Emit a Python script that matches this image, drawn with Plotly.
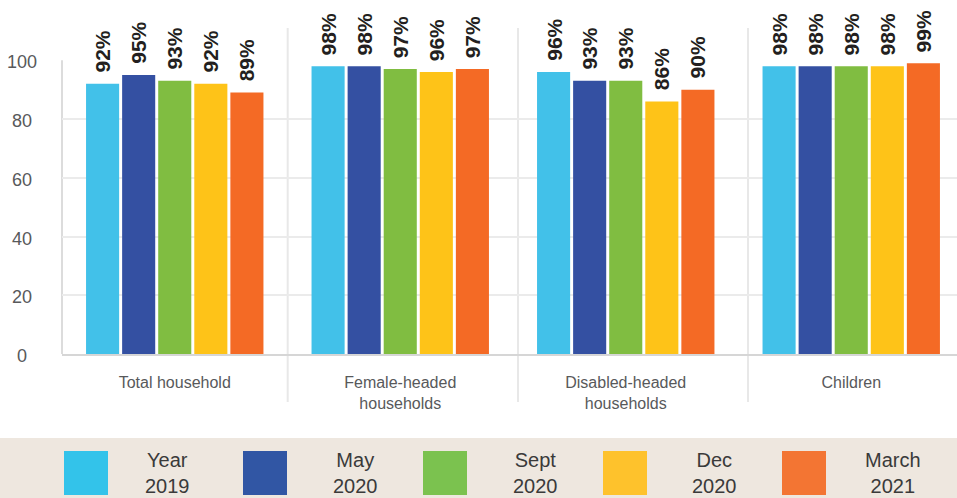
import plotly.graph_objects as go

# ---- data ----
categories = ["Total household", "Female-headed households", "Disabled-headed households", "Children"]
category_labels = ["Total household", "Female-headed<br>households", "Disabled-headed<br>households", "Children"]
series_names = ["Year 2019", "May 2020", "Sept 2020", "Dec 2020", "March 2021"]
legend_labels = ["Year<br>2019", "May<br>2020", "Sept<br>2020", "Dec<br>2020", "March<br>2021"]
year_2019 = [92, 98, 96, 98]
may_2020 = [95, 98, 93, 98]
sept_2020 = [93, 97, 93, 98]
dec_2020 = [92, 96, 86, 98]
march_2021 = [89, 97, 90, 99]
series_values = [year_2019, may_2020, sept_2020, dec_2020, march_2021]
y_tick_values = [0, 20, 40, 60, 80, 100]

# ---- style ----
bar_colors = ["#42C1E9", "#3450A2", "#80BD41", "#FEC318", "#F46A25"]
legend_colors = ["#33C3EA", "#3156A4", "#7BC24F", "#FEC22C", "#F37533"]
W, H = 957, 498
L, R, T, B = 62, 0, 28, 144
PW = W - L - R
PH = H - T - B
Y_MAX = 111

def px_x(px):
    return (px - L) / PW

def px_y(py):
    return (H - B - py) / PH

fig = go.Figure()
for name, vals, col in zip(series_names, series_values, bar_colors):
    fig.add_trace(go.Bar(
        name=name, x=categories, y=vals, marker=dict(color=col, line=dict(width=0)),
        showlegend=False, hoverinfo="x+y",
    ))

shapes = []
annotations = []

# legend band
shapes.append(dict(type="rect", xref="paper", yref="paper", x0=px_x(0), x1=px_x(W),
                   y0=px_y(438), y1=px_y(H), fillcolor="#EEE7DF", line=dict(width=0), layer="below"))

# separators between groups
for sx in [287.7, 518, 748]:
    shapes.append(dict(type="line", xref="paper", yref="paper", x0=px_x(sx), x1=px_x(sx),
                       y0=px_y(402), y1=px_y(28), line=dict(color="#E8E8E8", width=2), layer="below"))

# y axis line
shapes.append(dict(type="line", xref="paper", yref="y", x0=0, x1=0, y0=0, y1=100,
                   line=dict(color="#DCDCDC", width=2), layer="below"))

# y tick labels (centered)
for v in y_tick_values:
    annotations.append(dict(xref="paper", yref="y", x=px_x(22), y=v, text=str(v), showarrow=False,
                            xanchor="center", yanchor="middle", yshift=-2,
                            font=dict(family="Liberation Sans, Arial, sans-serif", size=18, color="#58595B")))

# value labels above bars
slot = 36
for i, vals in enumerate(series_values):
    for cat, v in zip(categories, vals):
        annotations.append(dict(xref="x", yref="y", x=cat, y=v, text=f"{v}%", showarrow=False,
                                textangle=-90, xanchor="center", yanchor="bottom",
                                xshift=(i - 2) * slot, yshift=10, borderpad=0,
                                font=dict(family="Liberation Sans, Arial, sans-serif", size=21,
                                          color="#231F20", weight="bold")))

# custom legend
sq_x0 = [64, 243, 423, 603, 782]
txt_cx = [167, 355, 535, 714, 893]
for lab, col, x0, cx in zip(legend_labels, legend_colors, sq_x0, txt_cx):
    shapes.append(dict(type="rect", xref="paper", yref="paper", x0=px_x(x0), x1=px_x(x0 + 44),
                       y0=px_y(495), y1=px_y(451), fillcolor=col, line=dict(width=0)))
    annotations.append(dict(xref="paper", yref="paper", x=px_x(cx), y=px_y(473), text=lab,
                            showarrow=False, xanchor="center", yanchor="middle", align="center",
                            font=dict(family="Liberation Sans, Arial, sans-serif", size=20, color="#3A3A3A")))

fig.update_layout(
    width=W, height=H,
    margin=dict(l=L, r=R, t=T, b=B, pad=0),
    paper_bgcolor="white", plot_bgcolor="white",
    barmode="group", bargap=0.2, bargroupgap=0.083,
    shapes=shapes, annotations=annotations,
    showlegend=False,
    xaxis=dict(
        type="category", range=[-0.5, 3.469], tickmode="array", tickvals=categories, ticktext=category_labels,
        showline=True, linecolor="#D6D6D6", linewidth=2, showgrid=False,
        ticks="outside", ticklen=13, tickcolor="rgba(0,0,0,0)",
        tickfont=dict(family="Liberation Sans, Arial, sans-serif", size=16, color="#58595B"),
        fixedrange=True,
    ),
    yaxis=dict(
        range=[0, Y_MAX], tickmode="array", tickvals=[20, 40, 60, 80],
        showticklabels=False, showgrid=True, gridcolor="#EBEBEB", gridwidth=1.5,
        zeroline=False, showline=False, fixedrange=True,
    ),
)

fig.write_html(
    "out.html",
    config={"displayModeBar": False},
    post_script="document.body.style.margin='0';document.body.style.overflow='hidden';",
)
